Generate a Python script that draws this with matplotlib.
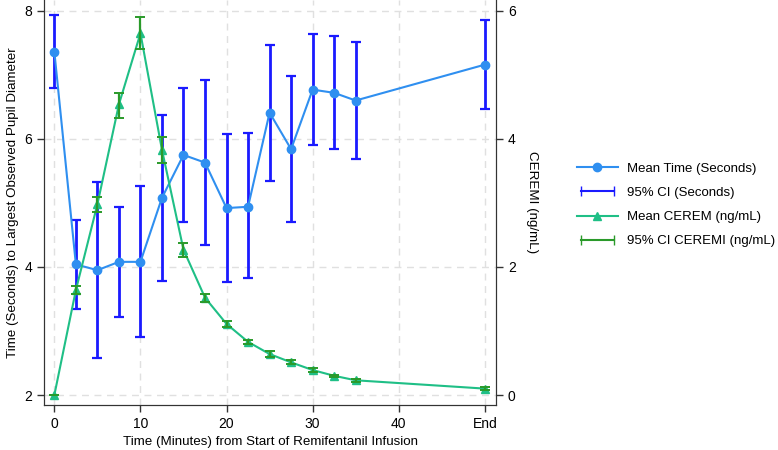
import matplotlib
matplotlib.use("Agg")
import matplotlib.pyplot as plt
from matplotlib.lines import Line2D
from matplotlib.legend_handler import HandlerLine2D

plt.rcParams['font.family'] = ['Liberation Sans', 'DejaVu Sans']

# minutes from start of infusion (50 = "End")
minutos = [0, 2.5, 5, 7.5, 10, 12.5, 15, 17.5, 20, 22.5, 25, 27.5, 30, 32.5, 35, 50]

# tempo medio (segundos) e IC 95%
tempo_media = [7.36, 4.04, 3.95, 4.08, 4.08, 5.08, 5.75, 5.63, 4.92, 4.94,
               6.41, 5.84, 6.77, 6.72, 6.60, 7.16]
tempo_ic_sup = [7.93, 4.73, 5.32, 4.94, 5.27, 6.38, 6.80, 6.92, 6.07, 6.09,
                7.47, 6.98, 7.64, 7.60, 7.51, 7.85]
tempo_ic_inf = [6.79, 3.35, 2.58, 3.22, 2.91, 3.78, 4.71, 4.34, 3.77, 3.82,
                5.35, 4.71, 5.90, 5.84, 5.69, 6.47]

# CEREMI medio (ng/mL) e IC 95%
ceremi_media = [0.00, 1.64, 2.98, 4.54, 5.65, 3.83, 2.27, 1.52, 1.11, 0.83,
                0.64, 0.51, 0.39, 0.30, 0.23, 0.10]
ceremi_ic_sup = [0.00, 1.71, 3.10, 4.71, 5.90, 4.03, 2.38, 1.58, 1.15, 0.86,
                 0.68, 0.54, 0.42, 0.32, 0.25, 0.12]
ceremi_ic_inf = [0.00, 1.57, 2.86, 4.33, 5.41, 3.63, 2.16, 1.46, 1.07, 0.80,
                 0.60, 0.48, 0.36, 0.28, 0.21, 0.08]

xticks = [0, 10, 20, 30, 40, 50]
xtick_labels = ['0', '10', '20', '30', '40', 'End']

cor_media_tempo = '#2f8ff0'
cor_ic_tempo = '#1a1aff'
cor_media_ceremi = '#1fbf86'
cor_ic_ceremi = '#2a9a2a'

fig = plt.figure(figsize=(7.78, 4.5), dpi=100)
ax = fig.add_axes([0.0566, 0.1, 0.5809, 0.9])
ax2 = ax.twinx()

# tempo (eixo esquerdo)
err_t = [[m - l for m, l in zip(tempo_media, tempo_ic_inf)],
         [u - m for m, u in zip(tempo_media, tempo_ic_sup)]]
ax.errorbar(minutos, tempo_media, yerr=err_t, fmt='none', ecolor=cor_ic_tempo,
            elinewidth=2, capsize=3.5, capthick=1.6, zorder=2)
ax.plot(minutos, tempo_media, color=cor_media_tempo, linewidth=1.5,
        marker='o', markersize=6, zorder=3)

# CEREMI (eixo direito)
err_c = [[m - l for m, l in zip(ceremi_media, ceremi_ic_inf)],
         [u - m for m, u in zip(ceremi_media, ceremi_ic_sup)]]
ax2.plot(minutos, ceremi_media, color=cor_media_ceremi, linewidth=1.5,
         marker='^', markersize=6, zorder=2)
ax2.errorbar(minutos, ceremi_media, yerr=err_c, fmt='none', ecolor=cor_ic_ceremi,
             elinewidth=1.6, capsize=3.5, capthick=1.4, zorder=3)

ax.set_xlim(-1.2, 51.3)
ax.set_ylim(1.844, 8.17)
ax2.set_ylim(-0.156, 6.17)
ax.set_xticks(xticks)
ax.set_xticklabels(xtick_labels)
ax.set_yticks([2, 4, 6, 8])
ax2.set_yticks([0, 2, 4, 6])

ax.grid(True, linestyle=(0, (5, 4)), color='#e0e0e0', linewidth=1)
ax.set_axisbelow(True)

for a in (ax, ax2):
    a.spines['top'].set_visible(False)
    a.tick_params(labelsize=10, length=5, width=1, color='#333333')
    for s in a.spines.values():
        s.set_color('#333333')

ax.set_xlabel('Time (Minutes) from Start of Remifentanil Infusion', fontsize=9.6)
ax.set_ylabel('Time (Seconds) to Largest Observed Pupil Diameter', fontsize=9.6)
ax2.set_ylabel('CEREMI (ng/mL)', fontsize=9.6, rotation=270, labelpad=16)

h1 = Line2D([0], [0], color=cor_media_tempo, linewidth=1.5, marker='o', markersize=6)
h2 = Line2D([0], [0], color=cor_ic_tempo, linewidth=1.5, marker='|', markersize=7)
h3 = Line2D([0], [0], color=cor_media_ceremi, linewidth=1.5, marker='^', markersize=6)
h4 = Line2D([0], [0], color=cor_ic_ceremi, linewidth=1.5, marker='|', markersize=7)
fig.legend([h1, h2, h3, h4],
           ['Mean Time (Seconds)', '95% CI (Seconds)',
            'Mean CEREM (ng/mL)', '95% CI CEREMI (ng/mL)'],
           loc='center left', bbox_to_anchor=(577 / 778, 1 - 205 / 450),
           frameon=False, fontsize=9.5, handlelength=3.1, handletextpad=0.7,
           numpoints=1, borderaxespad=0, borderpad=0, labelspacing=0.9,
           handler_map={h2: HandlerLine2D(numpoints=2),
                        h4: HandlerLine2D(numpoints=2)})

fig.savefig('out.png', dpi=100)
